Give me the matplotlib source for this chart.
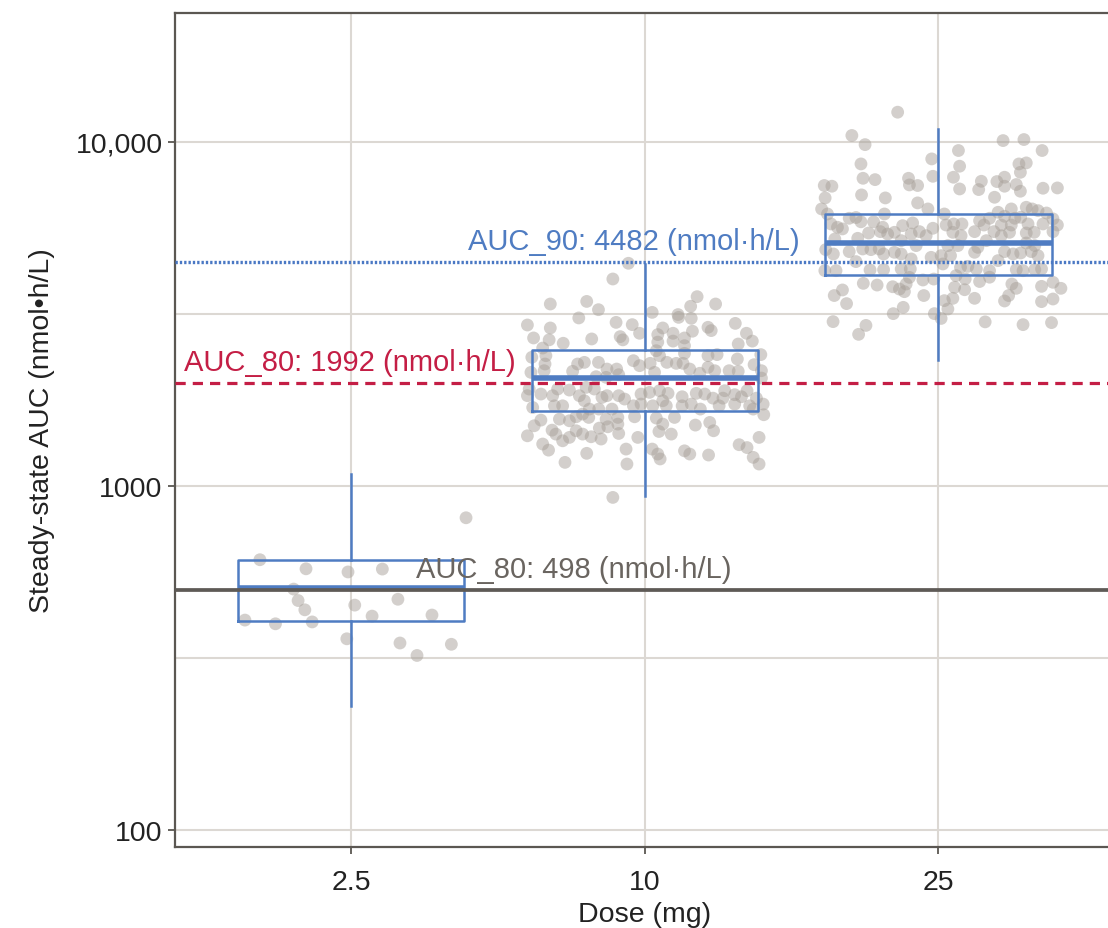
import matplotlib
matplotlib.use("Agg")
import matplotlib.pyplot as plt
from matplotlib.ticker import FixedLocator, FixedFormatter

plt.rcParams["font.family"] = ["Liberation Sans", "DejaVu Sans"]

doses = ["2.5", "10", "25"]

# box summaries: lower whisker, Q1, median, Q3, upper whisker
box_whislo = [230, 935, 2329]
box_q1 = [405, 1652, 4106]
box_med = [506, 2061, 5087]
box_q3 = [609, 2486, 6164]
box_whishi = [1084, 4420, 10913]

# target exposure lines
ref_values = [4482, 1992, 498]
ref_labels = ["AUC_90: 4482 (nmol\u00b7h/L)", "AUC_80: 1992 (nmol\u00b7h/L)",
              "AUC_80: 498 (nmol\u00b7h/L)"]
ref_text_x = [1.398, 0.43, 1.221]

# individual subjects: horizontal jitter (category units) and AUC
dose2p5_jitter = [0.391, -0.311, -0.154, -0.011, 0.106, -0.196, -0.181, -0.158, 0.012, 0.159,
                  -0.362, -0.258, -0.133, 0.071, 0.275, -0.015, 0.166, 0.224, 0.341]
dose2p5_auc = [809, 611, 575, 563, 574, 502, 465, 437, 451, 469,
               408, 398, 403, 419, 422, 360, 350, 322, 347]

dose10_jitter = [
    -0.056, -0.109, -0.322, -0.198, -0.158, -0.225, -0.400, -0.322, -0.098, -0.043,
    -0.018, -0.379, -0.326, -0.278, -0.181, -0.084, -0.075, -0.348, -0.337, -0.385,
    -0.340, -0.343, -0.388, -0.229, -0.206, -0.158, -0.246, -0.129, -0.096, -0.039,
    -0.018, -0.166, -0.132, -0.089, -0.394, -0.400, -0.354, -0.297, -0.257, -0.200,
    -0.172, -0.314, -0.223, -0.206, -0.146, -0.129, -0.089, -0.069, -0.013, -0.382,
    -0.308, -0.280, -0.189, -0.157, -0.112, -0.039, -0.013, -0.354, -0.291, -0.257,
    -0.234, -0.212, -0.191, -0.132, -0.092, -0.035, -0.377, -0.316, -0.303, -0.234,
    -0.212, -0.183, -0.155, -0.126, -0.092, -0.089, -0.400, -0.280, -0.257, -0.149,
    -0.024, -0.348, -0.328, -0.198, -0.064, -0.272, -0.061, -0.109,
    0.178, 0.156, 0.241, 0.025, 0.113, 0.158, 0.115, 0.061, 0.096, 0.215,
    0.226, 0.162, 0.308, 0.346, 0.044, 0.096, 0.135, 0.044, 0.135, 0.366,
    0.318, 0.039, 0.135, 0.050, 0.215, 0.246, 0.395, 0.315, 0.018, 0.075,
    0.107, 0.130, 0.215, 0.153, 0.033, 0.238, 0.187, 0.287, 0.318, 0.372,
    0.397, 0.397, 0.016, 0.050, 0.079, 0.127, 0.175, 0.204, 0.232, 0.272,
    0.266, 0.306, 0.329, 0.348, 0.380, 0.027, 0.061, 0.073, 0.127, 0.158,
    0.189, 0.253, 0.306, 0.357, 0.403, 0.369, 0.405, 0.039, 0.101, 0.061,
    0.048, 0.090, 0.172, 0.221, 0.234, 0.389, 0.025, 0.044, 0.052, 0.135,
    0.153, 0.217, 0.321, 0.348, 0.369, 0.389]
dose10_auc = [
    4440, 3997, 3381, 3440, 3255, 3080, 2938, 2880, 2990, 2945,
    2780, 2694, 2660, 2600, 2676, 2718, 2660, 2518, 2393, 2367,
    2263, 2164, 2140, 2263, 2288, 2288, 2155, 2188, 2188, 2314,
    2238, 2079, 2070, 2107, 1914, 1831, 1851, 1914, 1901, 1936,
    1914, 1831, 1831, 1770, 1810, 1831, 1831, 1790, 1851, 1692,
    1711, 1711, 1674, 1674, 1674, 1711, 1731, 1555, 1565, 1548,
    1590, 1619, 1583, 1565, 1583, 1590, 1497, 1454, 1416, 1448,
    1416, 1391, 1474, 1487, 1514, 1422, 1400, 1354, 1385, 1370,
    1385, 1325, 1272, 1245, 1281, 1172, 1159, 927,
    3551, 3330, 3381, 3197, 3150, 3072, 3092, 2880, 2780, 2893,
    2830, 2818, 2970, 2780, 2755, 2638, 2694, 2620, 2558, 2638,
    2587, 2474, 2430, 2393, 2393, 2410, 2410, 2340, 2273, 2288,
    2273, 2273, 2213, 2188, 2140, 2164, 2127, 2164, 2155, 2253,
    2164, 2060, 1872, 1893, 1860, 1818, 1860, 1851, 1801, 1893,
    1801, 1843, 1818, 1893, 1801, 1711, 1770, 1711, 1711, 1731,
    1674, 1711, 1731, 1711, 1731, 1674, 1612, 1576, 1583, 1514,
    1441, 1416, 1504, 1531, 1448, 1385, 1281, 1239, 1199, 1266,
    1239, 1231, 1319, 1294, 1212, 1159]

dose25_jitter = [
    -0.139, -0.295, -0.250, -0.023, -0.264, -0.257, -0.216, -0.019, -0.102, -0.099,
    -0.071, -0.389, -0.363, -0.386, -0.262, -0.181, -0.071, -0.398, -0.378, -0.184,
    -0.036, -0.304, -0.281, -0.264, -0.221, -0.366, -0.344, -0.327, -0.238, -0.198,
    -0.173, -0.150, -0.122, -0.088, -0.065, -0.042, -0.019, -0.353, -0.275, -0.190,
    -0.127, -0.093, -0.384, -0.358, -0.304, -0.258, -0.230, -0.202, -0.187, -0.150,
    -0.127, -0.076, -0.025, -0.093, -0.281, -0.387, -0.349, -0.233, -0.187, -0.127,
    -0.096, -0.053, -0.099, -0.016, -0.256, -0.209, -0.156, -0.133, -0.110, -0.327,
    -0.355, -0.313, -0.116, -0.050, -0.120, -0.154, -0.014, -0.359, -0.247, -0.272,
    0.220, 0.291, 0.068, 0.353, 0.072, 0.274, 0.299, 0.279, 0.051, 0.146,
    0.199, 0.225, 0.265, 0.225, 0.072, 0.137, 0.279, 0.356, 0.405, 0.191,
    0.248, 0.299, 0.319, 0.339, 0.368, 0.020, 0.203, 0.225, 0.260, 0.280,
    0.390, 0.026, 0.052, 0.080, 0.140, 0.155, 0.174, 0.214, 0.248, 0.305,
    0.356, 0.405, 0.049, 0.077, 0.123, 0.189, 0.214, 0.242, 0.299, 0.326,
    0.390, 0.163, 0.032, 0.066, 0.134, 0.299, 0.328, 0.009, 0.041, 0.123,
    0.225, 0.254, 0.280, 0.316, 0.339, 0.015, 0.075, 0.100, 0.129, 0.174,
    0.203, 0.265, 0.288, 0.328, 0.351, 0.060, 0.091, 0.140, 0.174, 0.250,
    0.265, 0.351, 0.390, 0.417, 0.055, 0.089, 0.049, 0.020, 0.123, 0.239,
    0.225, 0.351, 0.390, 0.032, 0.009, 0.159, 0.288, 0.385]
dose25_auc = [
    12200, 10440, 9820, 8925, 8630, 7840, 7770, 7945, 7840, 7500,
    7470, 7470, 7435, 6875, 7015, 6875, 6650, 6386, 6175, 6175,
    6386, 6000, 6030, 5860, 5860, 5776, 5650, 5588, 5437, 5487,
    5400, 5462, 5711, 5815, 5487, 5340, 5612, 5222, 5247, 5650,
    5166, 5400, 4864, 4725, 4800, 4886, 4864, 4886, 4725, 4778,
    4725, 4997, 4620, 4570, 4490, 4226, 4226, 4245, 4255, 4275,
    4275, 3970, 4040, 3995, 3882, 3838, 3795, 3736, 3865, 3714,
    3578, 3390, 3672, 3578, 3306, 3170, 3170, 3005, 2930, 2760,
    10090, 10160, 9440, 9440, 8500, 8630, 8690, 8160, 7895, 7685,
    7670, 7895, 7520, 7435, 7300, 7270, 7190, 7335, 7350, 6905,
    6386, 6458, 6386, 6315, 6215, 6175, 6245, 6080, 6000, 6040,
    5975, 5735, 5776, 5776, 5905, 5735, 6000, 5735, 5735, 5776,
    5776, 5735, 5462, 5340, 5487, 5487, 5340, 5462, 5437, 5462,
    5487, 5166, 4997, 4997, 4940, 5085, 4997, 4672, 4672, 4778,
    4800, 4725, 4757, 4800, 4672, 4420, 4322, 4350, 4275, 4226,
    4520, 4255, 4226, 4255, 4275, 4088, 4000, 3930, 4045, 3865,
    3755, 3805, 3909, 3755, 3780, 3720, 3512, 3458, 3512, 3578,
    3450, 3435, 3496, 3270, 3070, 3000, 2945, 2985]

jitters = [dose2p5_jitter, dose10_jitter, dose25_jitter]
aucs = [dose2p5_auc, dose10_auc, dose25_auc]

box_blue = "#4f7cc2"
grid_col = "#dcd8d3"
axis_col = "#5b5752"
ref_colors = ["#4a78c4", "#c41e45", "#5e5a56"]
ref_text_colors = ["#4f7cc2", "#c41e45", "#6a6560"]
ref_styles = [(0, (0.7, 0.6)), (0, (3.2, 2.2)), "-"]
ref_widths = [2.4, 2.3, 2.7]

fig = plt.figure(figsize=(11.08, 9.29), dpi=100)
# right edge of the panel is cropped off in the original
ax = fig.add_axes([0.158, 0.087, 0.848, 0.898])

# points first, boxes and reference lines on top
for i, (jit, auc) in enumerate(zip(jitters, aucs)):
    xs = [i + 1 + j for j in jit]
    ax.scatter(xs, auc, s=85, color="#a8a19a", alpha=0.5, edgecolors="none", zorder=2)

stats = []
for i in range(len(doses)):
    stats.append({"whislo": box_whislo[i], "q1": box_q1[i], "med": box_med[i],
                  "q3": box_q3[i], "whishi": box_whishi[i], "fliers": []})
ax.bxp(stats, positions=[1, 2, 3], widths=0.77, showcaps=False, showfliers=False,
       boxprops=dict(color=box_blue, linewidth=1.8),
       whiskerprops=dict(color=box_blue, linewidth=1.8),
       medianprops=dict(color=box_blue, linewidth=4.0, solid_capstyle="butt"),
       zorder=3)

for val, lab, tx, c, tc, ls, lw in zip(ref_values, ref_labels, ref_text_x, ref_colors,
                                      ref_text_colors, ref_styles, ref_widths):
    ax.axhline(val, color=c, linestyle=ls, linewidth=lw, zorder=4)
    ax.annotate(lab, xy=(tx, val), xytext=(0, 5), textcoords="offset points",
                ha="left", va="bottom", fontsize=21, color=tc, zorder=5)

ax.set_yscale("log")
ax.set_ylim(89.3, 23700)
ax.set_xlim(0.4, 3.6)

ax.yaxis.set_major_locator(FixedLocator([100, 1000, 10000]))
ax.yaxis.set_major_formatter(FixedFormatter(["100", "1000", "10,000"]))
ax.yaxis.set_minor_locator(FixedLocator([316.2, 3162]))
ax.yaxis.set_minor_formatter(FixedFormatter(["", ""]))
ax.set_xticks([1, 2, 3])
ax.set_xticklabels(doses)

ax.grid(True, which="major", color=grid_col, linewidth=1.5, zorder=0)
ax.grid(True, which="minor", axis="y", color=grid_col, linewidth=1.5, zorder=0)
ax.set_axisbelow(True)

ax.tick_params(which="major", length=5, width=1.3, color=axis_col, labelsize=20.5,
               labelcolor="#222222", pad=4)
ax.tick_params(axis="x", pad=11)
ax.tick_params(which="minor", length=0)
for sp in ax.spines.values():
    sp.set_color(axis_col)
    sp.set_linewidth(1.6)

ax.set_xlabel("Dose (mg)", fontsize=20.5, color="#222222", labelpad=4)
ax.set_ylabel("Steady-state AUC (nmol\u2022h/L)", fontsize=20.5, color="#222222", labelpad=15)

fig.savefig("out.png", dpi=100)
